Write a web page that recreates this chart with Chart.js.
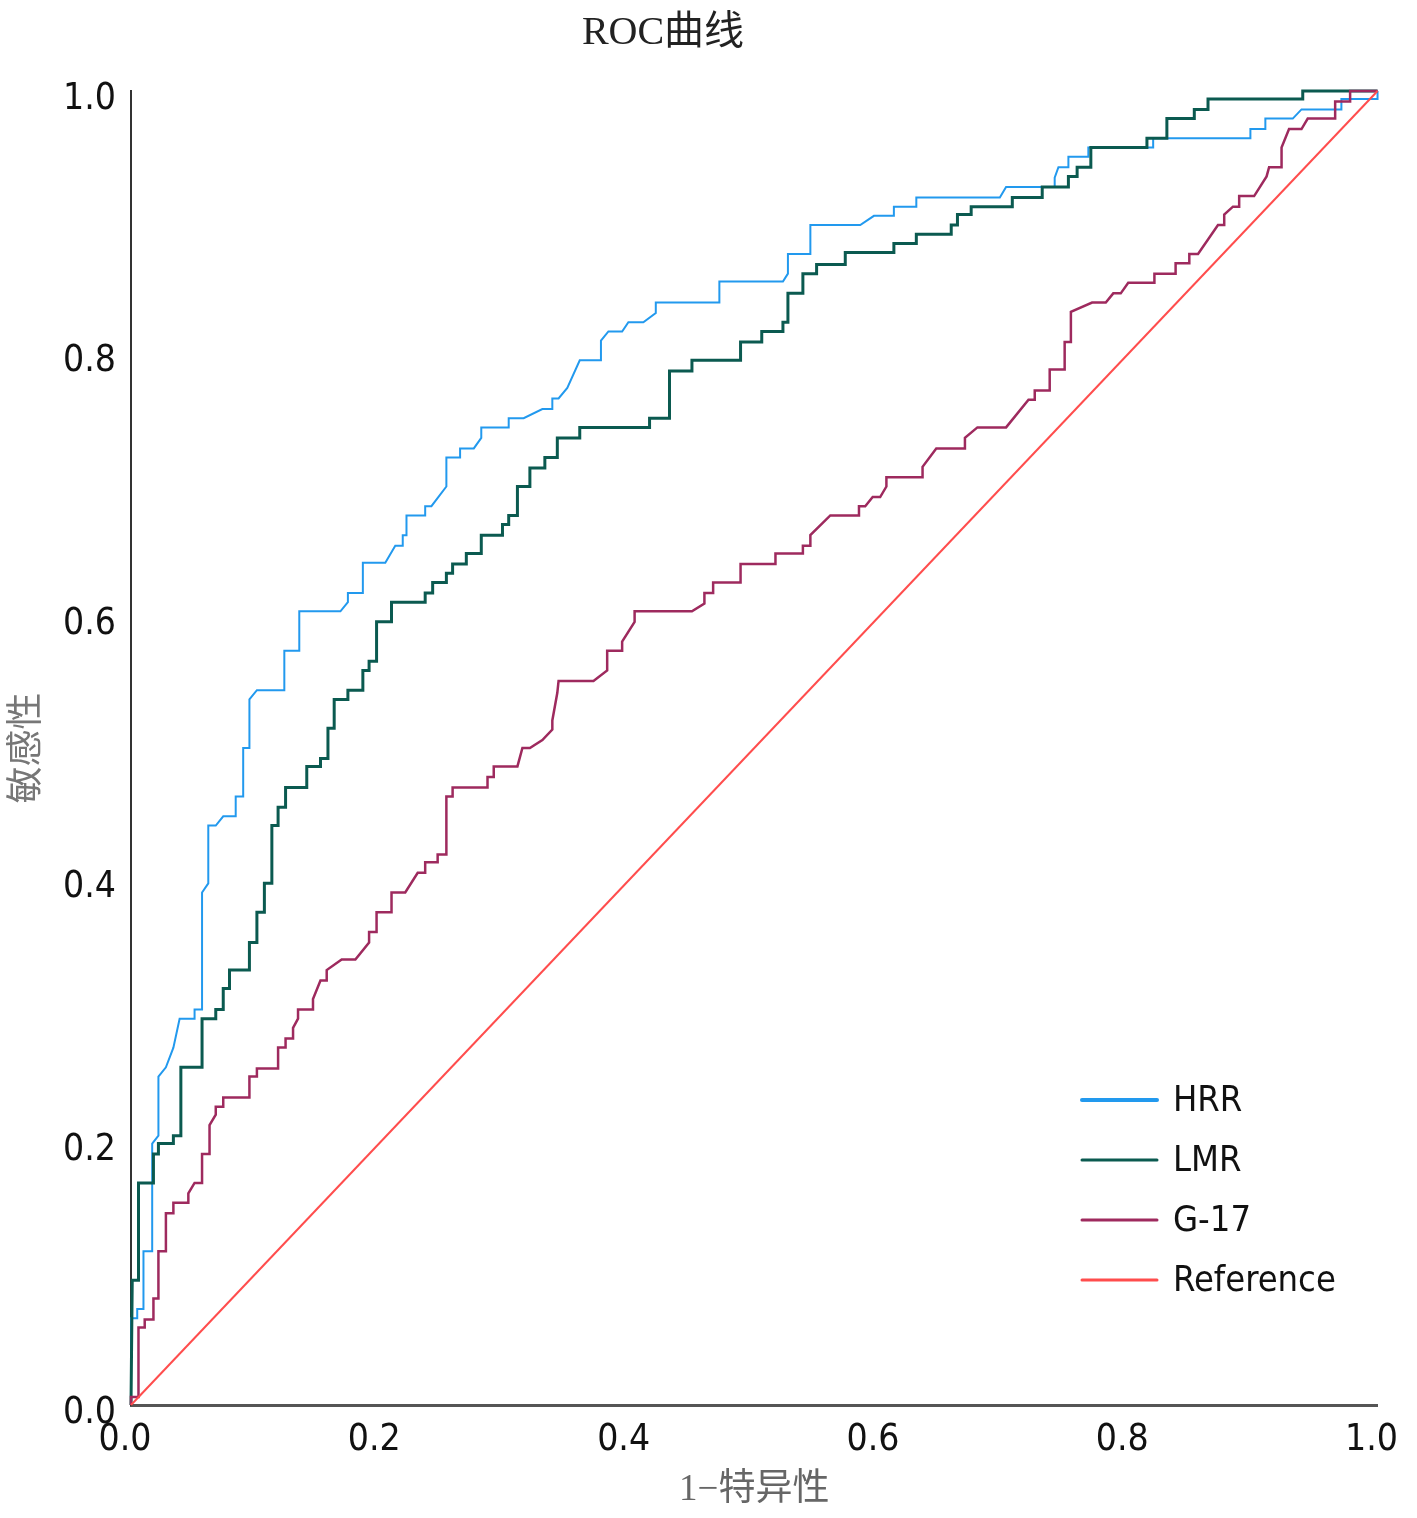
<!DOCTYPE html>
<html>
<head>
<meta charset="utf-8">
<script src="https://cdn.jsdelivr.net/npm/chart.js@4/dist/chart.umd.min.js"></script>
<style>
html,body{margin:0;padding:0;background:#fff;}
#wrap{width:1417px;height:1518px;position:relative;}
</style>
</head>
<body>
<div id="wrap"><canvas id="c" width="1417" height="1518"></canvas></div>
<script>
// ---- data: [1-specificity, sensitivity] ----
const chartTitle = 'ROC曲线';
const seriesNames = ['HRR', 'LMR', 'G-17', 'Reference'];
const tickValues = [0, 0.2, 0.4, 0.6, 0.8, 1.0];

const hrrPoints = [[0,0],[0,0.066],[0.005,0.066],[0.005,0.073],[0.010,0.073],[0.010,0.117],[0.017,0.117],[0.017,0.199],[0.022,0.205],[0.022,0.250],[0.028,0.257],[0.034,0.272],[0.039,0.294],[0.051,0.294],[0.051,0.301],[0.057,0.301],[0.057,0.390],[0.062,0.397],[0.062,0.441],[0.068,0.441],[0.074,0.448],[0.084,0.448],[0.084,0.463],[0.090,0.463],[0.090,0.500],[0.095,0.500],[0.095,0.537],[0.101,0.544],[0.123,0.544],[0.123,0.574],[0.135,0.574],[0.135,0.604],[0.168,0.604],[0.174,0.611],[0.174,0.618],[0.186,0.618],[0.186,0.641],[0.204,0.641],[0.212,0.654],[0.218,0.654],[0.218,0.662],[0.221,0.662],[0.221,0.677],[0.236,0.677],[0.236,0.684],[0.241,0.684],[0.253,0.699],[0.253,0.721],[0.264,0.721],[0.264,0.728],[0.275,0.728],[0.281,0.736],[0.281,0.744],[0.303,0.744],[0.303,0.751],[0.315,0.751],[0.330,0.758],[0.338,0.758],[0.338,0.766],[0.343,0.766],[0.350,0.774],[0.360,0.795],[0.377,0.795],[0.377,0.810],[0.383,0.817],[0.394,0.817],[0.399,0.824],[0.411,0.824],[0.421,0.831],[0.421,0.839],[0.472,0.839],[0.472,0.855],[0.523,0.855],[0.527,0.861],[0.527,0.876],[0.545,0.876],[0.545,0.898],[0.585,0.898],[0.596,0.905],[0.612,0.905],[0.612,0.912],[0.630,0.912],[0.630,0.919],[0.697,0.919],[0.702,0.927],[0.741,0.927],[0.741,0.934],[0.744,0.942],[0.752,0.942],[0.752,0.950],[0.768,0.950],[0.768,0.957],[0.820,0.957],[0.820,0.964],[0.898,0.964],[0.898,0.971],[0.910,0.971],[0.910,0.979],[0.932,0.979],[0.939,0.986],[0.971,0.986],[0.971,0.994],[1.0,0.994],[1.0,1.0]];

const lmrPoints = [[0,0],[0.001,0.095],[0.006,0.095],[0.006,0.169],[0.018,0.169],[0.018,0.191],[0.022,0.191],[0.022,0.199],[0.034,0.199],[0.034,0.205],[0.040,0.205],[0.040,0.257],[0.057,0.257],[0.057,0.294],[0.068,0.294],[0.068,0.301],[0.074,0.301],[0.074,0.317],[0.079,0.317],[0.079,0.331],[0.095,0.331],[0.095,0.352],[0.101,0.352],[0.101,0.375],[0.107,0.375],[0.107,0.397],[0.113,0.397],[0.113,0.441],[0.118,0.441],[0.118,0.455],[0.124,0.455],[0.124,0.470],[0.141,0.470],[0.141,0.486],[0.152,0.486],[0.152,0.492],[0.158,0.492],[0.158,0.515],[0.163,0.515],[0.163,0.537],[0.174,0.537],[0.174,0.544],[0.186,0.544],[0.186,0.559],[0.191,0.559],[0.191,0.566],[0.197,0.566],[0.197,0.596],[0.209,0.596],[0.209,0.611],[0.236,0.611],[0.236,0.618],[0.242,0.618],[0.242,0.626],[0.253,0.626],[0.253,0.633],[0.258,0.633],[0.258,0.640],[0.269,0.640],[0.269,0.648],[0.281,0.648],[0.281,0.662],[0.298,0.662],[0.298,0.670],[0.303,0.670],[0.303,0.677],[0.310,0.677],[0.310,0.699],[0.320,0.699],[0.320,0.713],[0.332,0.713],[0.332,0.721],[0.342,0.721],[0.342,0.736],[0.360,0.736],[0.360,0.744],[0.416,0.744],[0.416,0.751],[0.432,0.751],[0.432,0.787],[0.450,0.787],[0.450,0.795],[0.489,0.795],[0.489,0.809],[0.506,0.809],[0.506,0.817],[0.523,0.817],[0.523,0.824],[0.527,0.824],[0.527,0.846],[0.539,0.846],[0.539,0.861],[0.550,0.861],[0.550,0.868],[0.573,0.868],[0.573,0.877],[0.612,0.877],[0.612,0.884],[0.630,0.884],[0.630,0.891],[0.658,0.891],[0.658,0.898],[0.663,0.898],[0.663,0.906],[0.674,0.906],[0.674,0.912],[0.707,0.912],[0.707,0.919],[0.731,0.919],[0.731,0.927],[0.752,0.927],[0.752,0.935],[0.759,0.935],[0.759,0.942],[0.770,0.942],[0.770,0.957],[0.815,0.957],[0.815,0.964],[0.831,0.964],[0.831,0.979],[0.853,0.979],[0.853,0.986],[0.864,0.986],[0.864,0.994],[0.940,0.994],[0.940,1.0],[1.0,1.0]];

const g17Points = [[0,0],[0,0.006],[0.006,0.006],[0.006,0.059],[0.011,0.059],[0.011,0.065],[0.018,0.065],[0.018,0.081],[0.022,0.081],[0.022,0.117],[0.028,0.117],[0.028,0.146],[0.034,0.146],[0.034,0.154],[0.046,0.154],[0.046,0.161],[0.051,0.169],[0.057,0.169],[0.057,0.191],[0.063,0.191],[0.063,0.213],[0.068,0.221],[0.068,0.227],[0.074,0.227],[0.074,0.234],[0.095,0.234],[0.095,0.250],[0.101,0.250],[0.101,0.256],[0.118,0.256],[0.118,0.272],[0.124,0.272],[0.124,0.279],[0.130,0.279],[0.130,0.287],[0.134,0.294],[0.134,0.301],[0.146,0.301],[0.146,0.309],[0.152,0.323],[0.157,0.323],[0.157,0.331],[0.169,0.339],[0.180,0.339],[0.191,0.352],[0.191,0.360],[0.197,0.360],[0.197,0.375],[0.209,0.375],[0.209,0.390],[0.220,0.390],[0.230,0.405],[0.236,0.405],[0.236,0.413],[0.246,0.413],[0.246,0.419],[0.253,0.419],[0.253,0.463],[0.258,0.463],[0.258,0.470],[0.286,0.470],[0.286,0.478],[0.291,0.478],[0.291,0.486],[0.310,0.486],[0.314,0.500],[0.320,0.500],[0.330,0.506],[0.338,0.514],[0.338,0.521],[0.342,0.542],[0.343,0.551],[0.371,0.551],[0.382,0.559],[0.382,0.574],[0.394,0.574],[0.394,0.581],[0.404,0.596],[0.404,0.604],[0.450,0.604],[0.460,0.610],[0.460,0.618],[0.467,0.618],[0.467,0.626],[0.489,0.626],[0.489,0.640],[0.517,0.640],[0.517,0.648],[0.539,0.648],[0.539,0.654],[0.545,0.654],[0.545,0.662],[0.561,0.677],[0.584,0.677],[0.584,0.684],[0.589,0.684],[0.595,0.691],[0.601,0.691],[0.606,0.699],[0.606,0.706],[0.635,0.706],[0.635,0.714],[0.646,0.728],[0.669,0.728],[0.669,0.736],[0.679,0.744],[0.702,0.744],[0.720,0.765],[0.725,0.765],[0.725,0.772],[0.737,0.772],[0.737,0.788],[0.749,0.788],[0.749,0.809],[0.754,0.809],[0.754,0.832],[0.771,0.839],[0.782,0.839],[0.788,0.846],[0.794,0.846],[0.800,0.854],[0.821,0.854],[0.821,0.861],[0.838,0.861],[0.838,0.869],[0.849,0.869],[0.849,0.876],[0.856,0.876],[0.872,0.898],[0.877,0.898],[0.877,0.906],[0.884,0.912],[0.889,0.912],[0.889,0.920],[0.901,0.920],[0.911,0.935],[0.913,0.942],[0.923,0.942],[0.923,0.957],[0.929,0.971],[0.939,0.971],[0.944,0.979],[0.966,0.979],[0.966,0.992],[0.978,0.992],[0.978,1.0],[1.0,1.0]];

const refPoints = [[0,0],[1,1]];

const seriesColors = ['#2299EE', '#0B5A50', '#9E2A5E', '#FF4D4D'];
const seriesWidths = [2, 3, 2.5, 2];
const legendWidths = [4, 3, 3, 3];

const toXY = arr => arr.map(p => ({x: p[0], y: p[1]}));
const allPoints = [hrrPoints, lmrPoints, g17Points, refPoints];
const drawOrder = [3, 2, 1, 0];

const datasets = allPoints.map((pts, i) => ({
  label: seriesNames[i],
  data: toXY(pts),
  showLine: true,
  borderColor: seriesColors[i],
  backgroundColor: seriesColors[i],
  borderWidth: seriesWidths[i],
  pointRadius: 0,
  pointHoverRadius: 0,
  tension: 0,
  fill: false,
  clip: 6,
  order: drawOrder[i]
}));

const textPlugin = {
  id: 'roctext',
  afterDraw(chart) {
    const ctx = chart.ctx;
    ctx.save();
    // title
    ctx.font = '40px "Liberation Serif", "Noto Sans CJK SC", serif';
    ctx.fillStyle = '#222';
    ctx.textAlign = 'center';
    ctx.textBaseline = 'middle';
    ctx.fillText(chartTitle, 663, 33);
    // legend
    const x0 = 1082, x1 = 1157, tx = 1173;
    const rows = [1100, 1160, 1220, 1280];
    ctx.font = '36px "DejaVu Sans Condensed", "DejaVu Sans", sans-serif';
    ctx.textAlign = 'left';
    chart.data.datasets.forEach((ds, i) => {
      ctx.strokeStyle = ds.borderColor;
      ctx.lineWidth = legendWidths[i];
      ctx.lineCap = 'round';
      ctx.beginPath();
      ctx.moveTo(x0, rows[i]);
      ctx.lineTo(x1, rows[i]);
      ctx.stroke();
      ctx.fillStyle = '#111';
      ctx.fillText(ds.label, tx, rows[i] + 2);
    });
    ctx.restore();
  }
};

const tickFont = {family: '"DejaVu Sans Condensed", "DejaVu Sans", sans-serif', size: 37};
const axisTitleFont = {family: '"Liberation Serif", "Noto Sans CJK SC", serif', size: 37};

new Chart(document.getElementById('c'), {
  type: 'scatter',
  data: {datasets},
  options: {
    responsive: false,
    animation: false,
    devicePixelRatio: 1,
    layout: {padding: {left: 0, right: 39, top: 91, bottom: 0}},
    plugins: {
      legend: {display: false},
      tooltip: {enabled: false},
      title: {display: false}
    },
    scales: {
      x: {
        type: 'linear', min: 0, max: 1,
        afterFit(s) { s.height = 113; },
        afterBuildTicks(s) { s.ticks = tickValues.map(v => ({value: v})); },
        grid: {display: false, drawTicks: false},
        border: {display: true, color: '#555', width: 3},
        ticks: {color: '#111', font: tickFont, padding: 13, labelOffset: -6, maxRotation: 0,
          callback: v => Number(v).toFixed(1)},
        title: {display: true, text: '1−特异性', color: '#666', font: axisTitleFont, padding: {top: 0, bottom: 6}}
      },
      y: {
        type: 'linear', min: 0, max: 1,
        afterFit(s) { s.width = 131; },
        afterBuildTicks(s) { s.ticks = tickValues.map(v => ({value: v})); },
        grid: {display: false, drawTicks: false},
        border: {display: true, color: '#333', width: 2},
        ticks: {color: '#111', font: tickFont, padding: 15, labelOffset: 8,
          callback: v => Number(v).toFixed(1)},
        title: {display: true, text: '敏感性', color: '#777', font: axisTitleFont, padding: {top: 6, bottom: 0}}
      }
    }
  },
  plugins: [textPlugin]
});
</script>
</body>
</html>
